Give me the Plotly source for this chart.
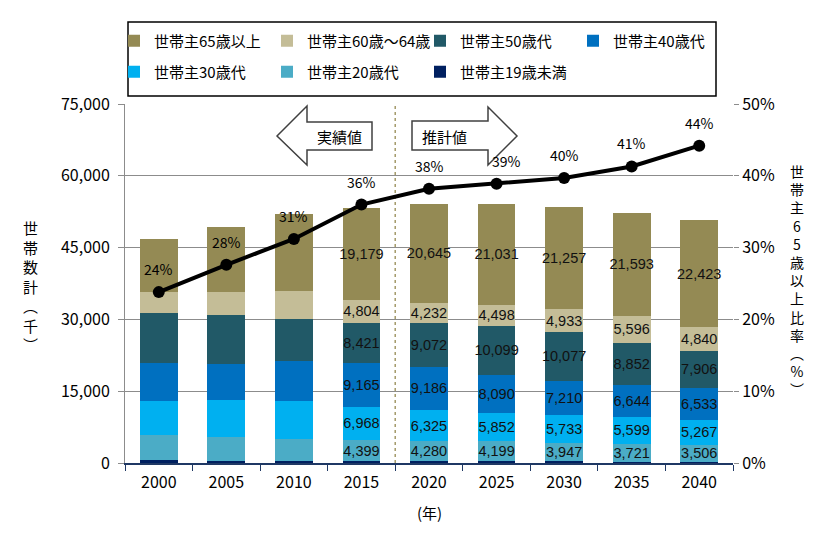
import plotly.graph_objects as go

years = ["2000", "2005", "2010", "2015", "2020", "2025", "2030", "2035", "2040"]
u19 = [540, 330, 320, 396, 367, 347, 327, 310, 282]
s20 = [5370, 5076, 4660, 4399, 4280, 4199, 3947, 3721, 3506]
s30 = [7100, 7730, 7875, 6968, 6325, 5852, 5733, 5599, 5267]
s40 = [7940, 7520, 8356, 9165, 9186, 8090, 7210, 6644, 6533]
s50 = [10445, 10236, 8774, 8421, 9072, 10099, 10077, 8852, 7906]
s6064 = [4390, 4805, 5850, 4804, 4232, 4498, 4933, 5596, 4840]
s65 = [11070, 13578, 16148, 19179, 20645, 21031, 21257, 21593, 22423]
ratio = [23.8, 27.6, 31.2, 36.0, 38.2, 38.9, 39.7, 41.3, 44.2]
ratio_labels = ["24%", "28%", "31%", "36%", "38%", "39%", "40%", "41%", "44%"]
first_labeled = 3  # bar values are printed from 2015 on

series = [
    ("世帯主19歳未満", u19, "#002060", "legend2", False),
    ("世帯主20歳代", s20, "#4BACC6", "legend2", True),
    ("世帯主30歳代", s30, "#00B0F0", "legend2", True),
    ("世帯主40歳代", s40, "#0070C0", "legend", True),
    ("世帯主50歳代", s50, "#215967", "legend", True),
    ("世帯主60歳～64歳", s6064, "#C4BD97", "legend", True),
    ("世帯主65歳以上", s65, "#948A54", "legend", True),
]

FONT = "Noto Sans CJK JP"
fig = go.Figure()
for name, vals, color, leg, lab in series:
    txt = [f"{v:,}" if (lab and i >= first_labeled) else "" for i, v in enumerate(vals)]
    fig.add_trace(go.Bar(
        x=years, y=vals, name=name, marker=dict(color=color, line=dict(width=0)),
        legend=leg, text=txt, textposition="inside", insidetextanchor="middle",
        textangle=0, constraintext="none",
        textfont=dict(family="Liberation Sans", size=14.5, color="#111111"),
    ))

fig.add_trace(go.Scatter(
    x=years, y=ratio, yaxis="y2", mode="lines+markers", showlegend=False,
    line=dict(color="black", width=4), marker=dict(color="black", size=12),
))

annotations = []
for i, (r, t) in enumerate(zip(ratio, ratio_labels)):
    nudge = 10 if i == 5 else 0  # the 2025 label sits right of the arrow tip
    annotations.append(dict(x=i, y=r, xref="x", yref="y2", text=t, showarrow=False,
                            xanchor="center", yanchor="middle", yshift=23, xshift=nudge,
                            font=dict(family=FONT, size=14, color="black")))

# plot-area helpers (pixel -> paper)
L, R, T, B = 125, 733, 104, 463
def px(x):
    return (x - L) / (R - L)
def py(y):
    return (B - y) / (B - T)

def path(points):
    return "M " + " L ".join(f"{px(a):.5f},{py(b):.5f}" for a, b in points) + " Z"

left_arrow = [(277, 136), (307, 106), (307, 122), (372, 122), (372, 150), (307, 150), (307, 165)]
right_arrow = [(412, 121), (488, 121), (488, 107), (517, 136), (488, 165), (488, 150), (412, 150)]

split = (first_labeled + 1) / len(years)  # boundary between 2015 and 2020
shapes = [
    dict(type="line", xref="paper", yref="paper", x0=split, x1=split, y0=0, y1=1,
         line=dict(color="#A49A6A", width=1.5, dash="dot"), layer="below"),
    dict(type="path", xref="paper", yref="paper", path=path(left_arrow),
         fillcolor="white", line=dict(color="#404040", width=1.5)),
    dict(type="path", xref="paper", yref="paper", path=path(right_arrow),
         fillcolor="white", line=dict(color="#404040", width=1.5)),
    dict(type="rect", xref="paper", yref="paper", x0=px(128), x1=px(716), y0=py(96), y1=py(22),
         line=dict(color="black", width=1.5), fillcolor="rgba(0,0,0,0)"),
]

def note(x, y, text, size):
    return dict(x=px(x), y=py(y), xref="paper", yref="paper", text=text, showarrow=False,
                xanchor="center", yanchor="middle",
                font=dict(family=FONT, size=size, color="black"))

annotations += [
    note(339, 136, "実績値", 15),
    note(444, 136, "推計値", 15),
    note(30, 286, "世<br>帯<br>数<br>計<br>︵<br>千<br>︶", 15),
    note(797, 280, "世<br>帯<br>主<br>6<br>5<br>歳<br>以<br>上<br>比<br>率<br>︵<br>%<br>︶", 14),
    note(429, 512, "(年)", 15),
]

legend_common = dict(orientation="h", xanchor="left", yanchor="middle", entrywidth=108,
                     entrywidthmode="pixels", traceorder="reversed",
                     bgcolor="rgba(0,0,0,0)", borderwidth=0,
                     font=dict(family=FONT, size=15, color="black"))

fig.update_layout(
    width=826, height=534,
    margin=dict(l=L, r=826 - R, t=T, b=534 - B, autoexpand=False),
    barmode="stack", bargap=0.44,
    plot_bgcolor="white", paper_bgcolor="white",
    font=dict(family=FONT, size=16, color="black"),
    showlegend=True,
    legend=dict(x=px(114), y=py(41), **legend_common),
    legend2=dict(x=px(114), y=py(72), **legend_common),
    xaxis=dict(type="category", categoryorder="array", categoryarray=years,
               range=[-0.5, len(years) - 0.5], ticks="outside", tickson="boundaries",
               ticklen=6, tickcolor="#1F3864", showline=True, linecolor="#1F3864",
               linewidth=1.5, showgrid=False, tickfont=dict(size=16), tickangle=0,
               ticklabelstandoff=4),
    yaxis=dict(range=[0, 75000], dtick=15000, tickformat=",", showgrid=True,
               gridcolor="#8C8C8C", gridwidth=1, showline=True, linecolor="#8C8C8C",
               ticks="outside", ticklen=6, tickcolor="#8C8C8C", zeroline=False,
               tickfont=dict(size=16), ticklabelstandoff=5),
    yaxis2=dict(overlaying="y", side="right", range=[0, 50], dtick=10, ticksuffix="%",
                showgrid=False, zeroline=False, ticks="outside", ticklen=5,
                tickcolor="#8C8C8C", showline=False, tickfont=dict(size=16)),
    shapes=shapes, annotations=annotations,
)

fig.write_html("out.html", config={"displayModeBar": False},
               post_script="document.body.style.margin='0px';document.body.style.padding='0px';")
